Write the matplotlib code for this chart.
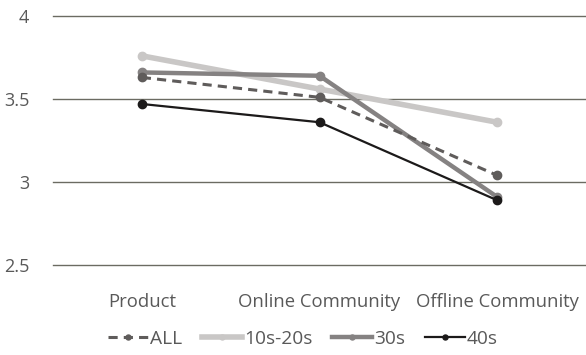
import matplotlib
matplotlib.use("Agg")
import matplotlib.pyplot as plt

categories = ["Product", "Online Community", "Offline Community"]
all_vals = [3.63, 3.51, 3.04]
teen_vals = [3.76, 3.56, 3.36]
thirty_vals = [3.66, 3.64, 2.91]
forty_vals = [3.47, 3.36, 2.89]
yticks = [2.5, 3, 3.5, 4]
ytick_labels = ["2.5", "3", "3.5", "4"]

plt.rcParams['font.family'] = ['Open Sans', 'DejaVu Sans']

W, H = 586, 355
fig = plt.figure(figsize=(W/100, H/100), dpi=100)
ax = fig.add_axes([53/W, 1-265/H, 533/W, (265-16)/H])

x = list(range(len(categories)))
ax.plot(x, teen_vals, color="#c9c7c6", lw=4, marker="o", ms=6, label="10s-20s", zorder=2)
ax.plot(x, thirty_vals, color="#858282", lw=3.2, marker="o", ms=6, label="30s", zorder=3)
ax.plot(x, all_vals, color="#5f5c5b", lw=2.2, ls=(0, (3, 2)), marker="o", ms=6, label="ALL", zorder=4)
ax.plot(x, forty_vals, color="#1c1a1a", lw=1.6, marker="o", ms=6, label="40s", zorder=5)

ax.set_xlim(-0.5, 2.5)
ax.set_ylim(2.5, 4)
ax.set_yticks(yticks)
ax.set_yticklabels(ytick_labels)
ax.set_xticks(x)
ax.set_xticklabels(categories)
ax.grid(axis="y", color="#6b6b62", lw=1.0)
for gl in ax.get_ygridlines():
    gl.set_clip_on(False)
ax.set_axisbelow(True)
for s in ax.spines.values():
    s.set_visible(False)
ax.tick_params(axis="y", length=0, pad=17, labelsize=13, labelcolor="#595959")
ax.tick_params(axis="x", length=0, pad=20, labelsize=13.3, labelcolor="#595959")

handles, labels = ax.get_legend_handles_labels()
order = [2, 0, 1, 3]
leg = fig.legend([handles[i] for i in order], [labels[i] for i in order],
                 loc="center", bbox_to_anchor=(303/W, 1-339/H), ncol=4, frameon=False,
                 fontsize=13.8, handlelength=2.1, handletextpad=0.12, columnspacing=1.0,
                 markerscale=0.6)
for t in leg.get_texts():
    t.set_color("#595959")

fig.savefig("out.png", dpi=100)
